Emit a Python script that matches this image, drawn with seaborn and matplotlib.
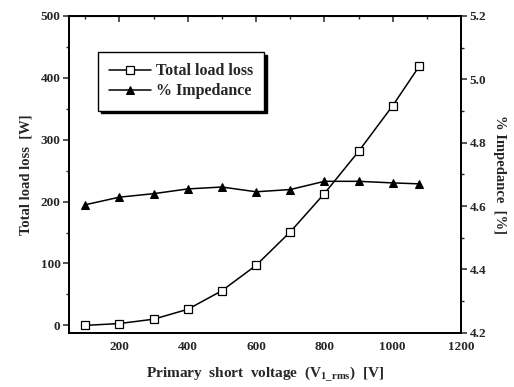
import pandas as pd
import matplotlib
matplotlib.use("Agg")
import matplotlib.pyplot as plt
from matplotlib.ticker import MultipleLocator
import seaborn as sns

# values
voltage = [100, 200, 300, 400, 500, 600, 700, 800, 900, 1000, 1078]
load_loss = [0, 3, 10, 26, 56, 97, 151, 213, 281, 355, 419]
impedance = [4.604, 4.628, 4.639, 4.654, 4.660, 4.645, 4.652, 4.678, 4.678, 4.673, 4.670]

df = pd.DataFrame({'Voltage': voltage, 'LoadLoss': load_loss, 'Impedance': impedance})

sns.set_style('white')
plt.rcParams['font.family'] = ['Liberation Serif', 'DejaVu Serif']
plt.rcParams['font.weight'] = 'bold'
plt.rcParams['mathtext.fontset'] = 'custom'
plt.rcParams['mathtext.rm'] = 'Liberation Serif:bold'
plt.rcParams['mathtext.it'] = 'Liberation Serif:bold'

fig = plt.figure(figsize=(5.14, 3.87), dpi=100)
ax = fig.add_axes([0.134, 0.14, 0.763, 0.819])
ax2 = ax.twinx()

sns.lineplot(data=df, x='Voltage', y='LoadLoss', ax=ax, color='black', lw=1.1,
             marker='s', markersize=6, markerfacecolor='white',
             markeredgecolor='black', markeredgewidth=0.9, label='Total load loss', legend=False)
sns.lineplot(data=df, x='Voltage', y='Impedance', ax=ax2, color='black', lw=1.1,
             marker='^', markersize=6, markerfacecolor='black',
             markeredgecolor='black', label='% Impedance', legend=False)

ax.set_xlim(52, 1200)
ax.set_ylim(-12, 500)
ax2.set_ylim(4.2, 5.2)

ax.xaxis.set_major_locator(MultipleLocator(200))
ax.xaxis.set_minor_locator(MultipleLocator(100))
ax.yaxis.set_major_locator(MultipleLocator(100))
ax.yaxis.set_minor_locator(MultipleLocator(50))
ax2.yaxis.set_minor_locator(MultipleLocator(0.1))
ax2.set_yticks([4.2, 4.4, 4.6, 4.8, 5.0, 5.2])
ax2.set_yticklabels(['4.2', '4.4', '4.6', '4.8', '5.0', '5.2'])

for a in (ax, ax2):
    for s in a.spines.values():
        s.set_linewidth(1.3)
        s.set_color('black')
ax.tick_params(axis='both', which='major', direction='out', length=4, width=1.1,
               labelsize=9.5, pad=2)
ax.tick_params(axis='both', which='minor', direction='out', length=2.5, width=1)
ax2.tick_params(axis='y', which='major', direction='out', length=4, width=1.1,
                labelsize=9.5, pad=2)
ax2.tick_params(axis='y', which='minor', direction='out', length=2.5, width=1)

top = ax.secondary_xaxis('top')
top.xaxis.set_major_locator(MultipleLocator(200))
top.xaxis.set_minor_locator(MultipleLocator(100))
top.tick_params(which='major', direction='in', length=4, width=1.1, labeltop=False)
top.tick_params(which='minor', direction='in', length=2.5, width=1)

ax.set_xlabel('Primary  short  voltage  (V$_{1\\_rms}$)  [V]', fontsize=11,
              fontweight='bold', labelpad=8)
ax.set_ylabel('Total load loss  [W]', fontsize=10.5, fontweight='bold', labelpad=6)
ax2.set_ylabel('% Impedance  [%]', fontsize=10.5, fontweight='bold', rotation=270,
               labelpad=14)

h1, l1 = ax.get_legend_handles_labels()
h2, l2 = ax2.get_legend_handles_labels()
leg = ax.legend(h1 + h2, l1 + l2, loc='upper left', bbox_to_anchor=(0.075, 0.885),
                frameon=True, fancybox=False, shadow={'color': 'black', 'alpha': 1},
                fontsize=11.5, handlelength=2.6, borderpad=0.7, labelspacing=0.25,
                handletextpad=0.3, borderaxespad=0)
leg.get_frame().set_edgecolor('black')
leg.get_frame().set_linewidth(1.0)
leg.set_zorder(5)

fig.savefig('out.png', dpi=100)
